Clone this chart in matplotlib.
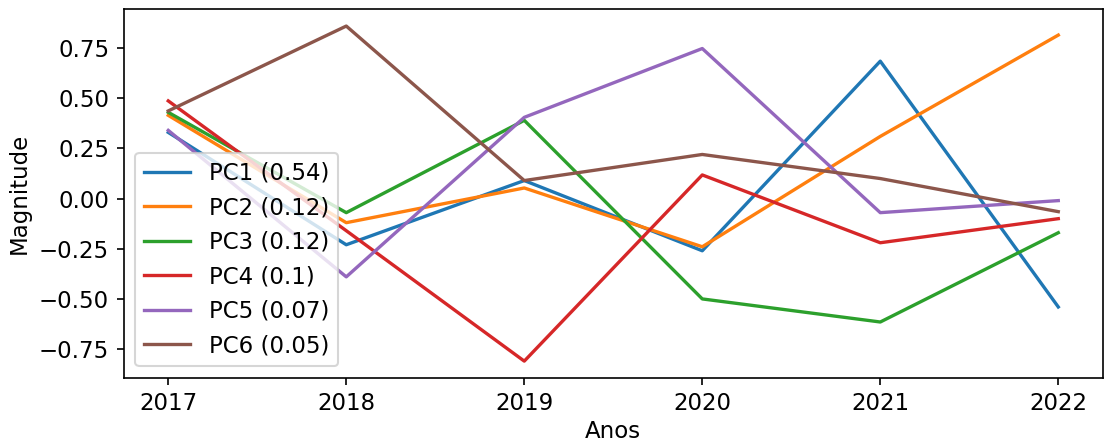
import matplotlib
matplotlib.use("Agg")
from matplotlib import pyplot as plt

plt.rcParams["font.size"] = 11
plt.rcParams["lines.linewidth"] = 1.6

anos = [2017, 2018, 2019, 2020, 2021, 2022]

pc1 = [0.33, -0.23, 0.09, -0.26, 0.685, -0.54]
pc2 = [0.415, -0.12, 0.053, -0.24, 0.31, 0.815]
pc3 = [0.43, -0.07, 0.39, -0.50, -0.615, -0.17]
pc4 = [0.487, -0.16, -0.81, 0.118, -0.22, -0.10]
pc5 = [0.34, -0.39, 0.405, 0.748, -0.07, -0.01]
pc6 = [0.437, 0.86, 0.09, 0.22, 0.10, -0.065]

rotulos = ["PC1 (0.54)", "PC2 (0.12)", "PC3 (0.12)", "PC4 (0.1)", "PC5 (0.07)", "PC6 (0.05)"]
componentes = [pc1, pc2, pc3, pc4, pc5, pc6]

fig = plt.figure(figsize=(1105 / 150, 443 / 150), dpi=150)
ax = fig.add_subplot(111)
fig.subplots_adjust(left=0.112, right=0.998, top=0.979, bottom=0.147)

for valores, rotulo in zip(componentes, rotulos):
    ax.plot(anos, valores, label=rotulo)

ax.set_xlabel("Anos", labelpad=2)
ax.set_ylabel("Magnitude")
ax.legend(loc="lower left")

fig.savefig("out.png", dpi=150)
